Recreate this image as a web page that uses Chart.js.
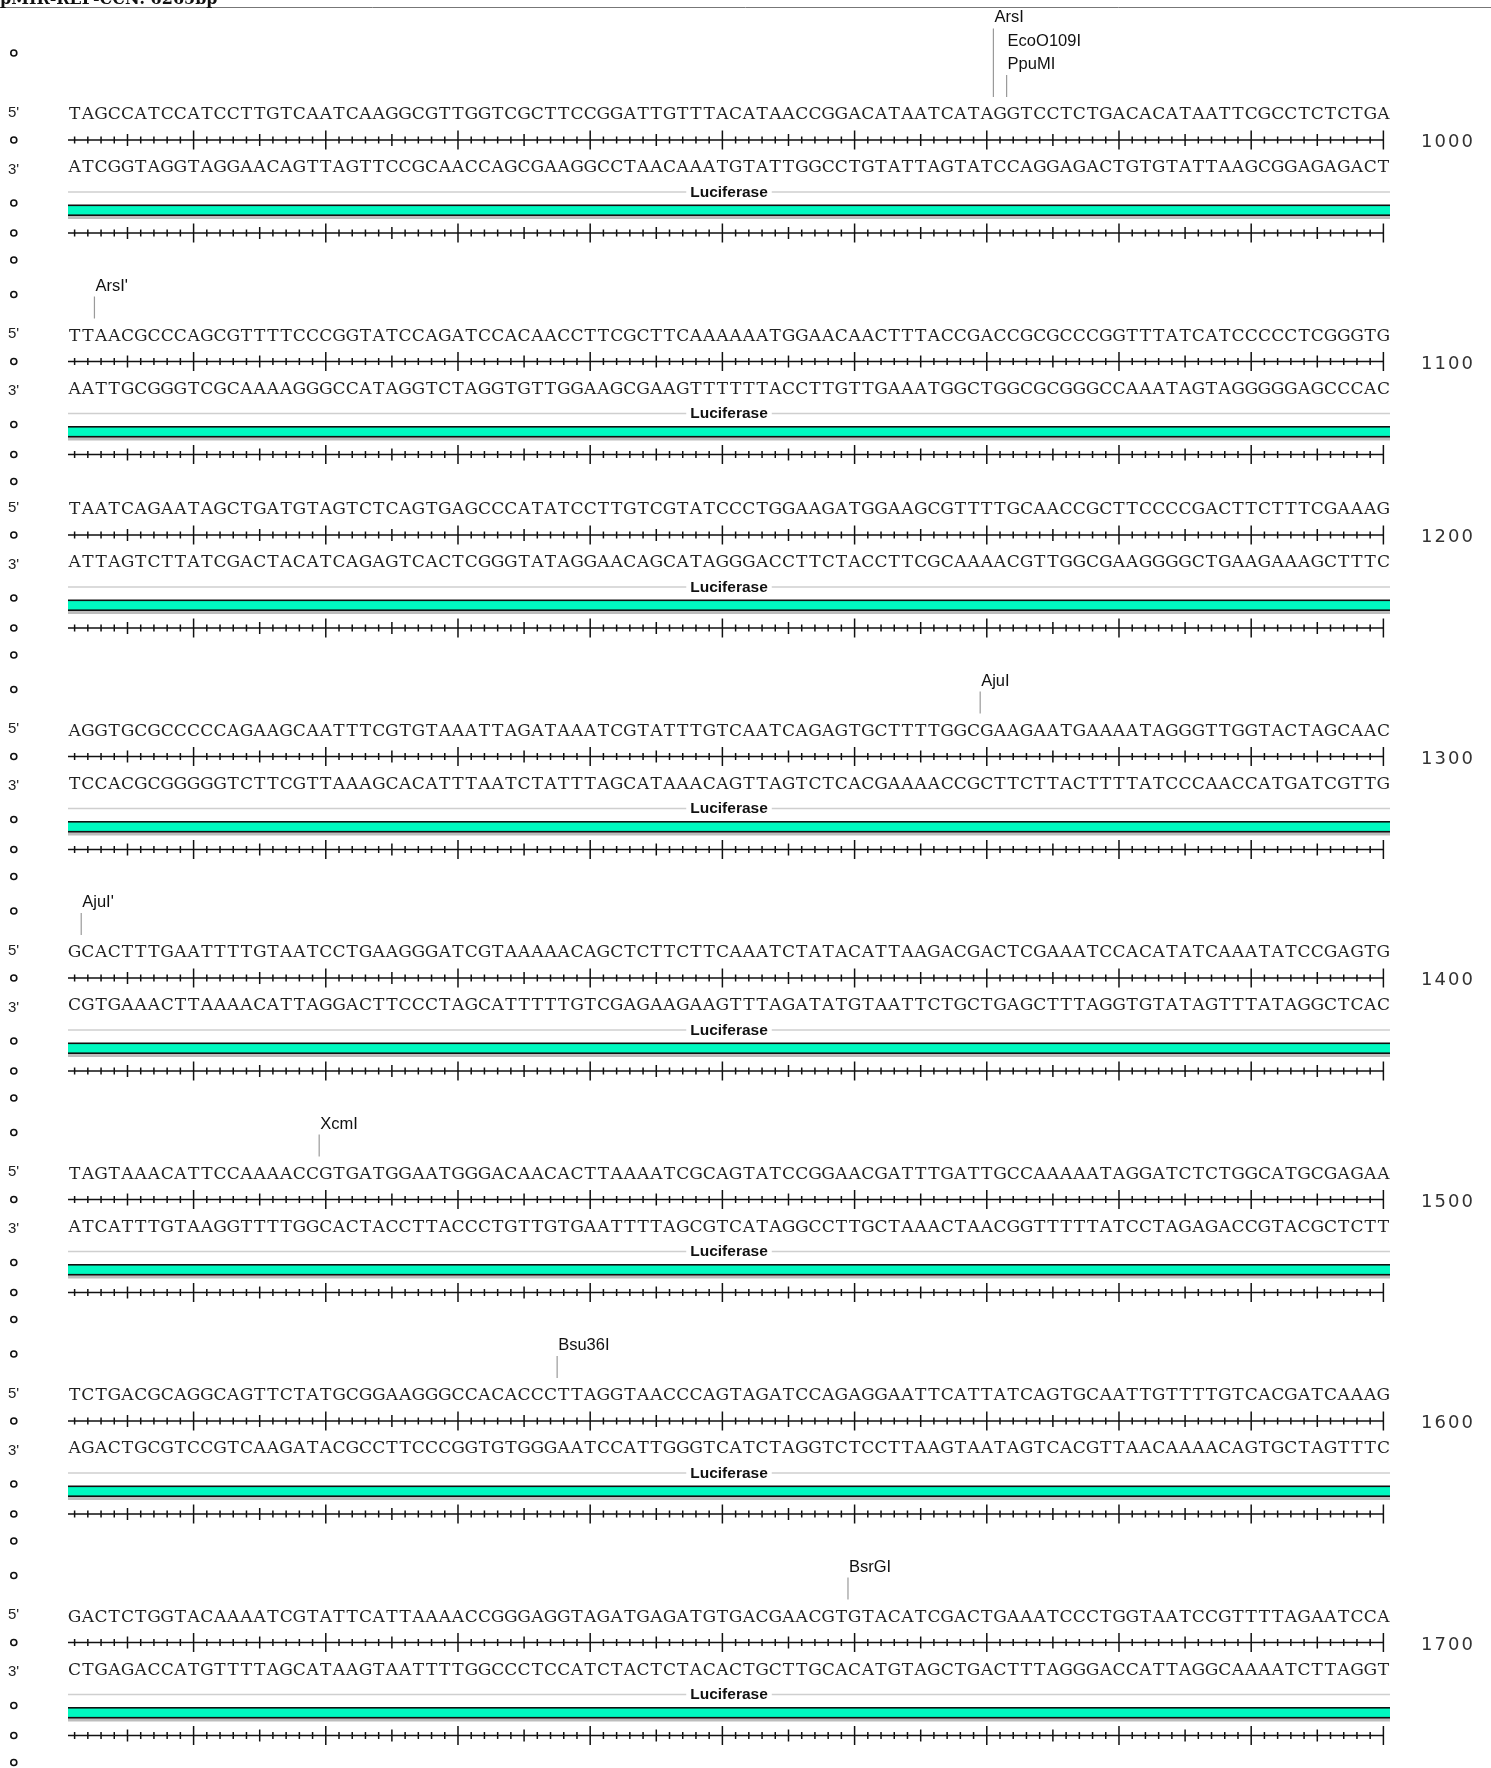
<!DOCTYPE html>
<html>
<head>
<meta charset="utf-8">
<title>pMIR-REP sequence map</title>
<script src="https://cdn.jsdelivr.net/npm/chart.js@4.4.1/dist/chart.umd.min.js"></script>
<style>
  html, body { margin: 0; padding: 0; background: #fff; }
  #wrap { width: 1491px; height: 1768px; }
</style>
</head>
<body>
<div id="wrap"><canvas id="seqChart" width="1491" height="1768"></canvas></div>
<script>
// top strand (5' -> 3'), 100 bases per line
const sequences = [
  "TAGCCATCCATCCTTGTCAATCAAGGCGTTGGTCGCTTCCGGATTGTTTACATAACCGGACATAATCATAGGTCCTCTGACACATAATTCGCCTCTCTGA",
  "TTAACGCCCAGCGTTTTCCCGGTATCCAGATCCACAACCTTCGCTTCAAAAAATGGAACAACTTTACCGACCGCGCCCGGTTTATCATCCCCCTCGGGTG",
  "TAATCAGAATAGCTGATGTAGTCTCAGTGAGCCCATATCCTTGTCGTATCCCTGGAAGATGGAAGCGTTTTGCAACCGCTTCCCCGACTTCTTTCGAAAG",
  "AGGTGCGCCCCCAGAAGCAATTTCGTGTAAATTAGATAAATCGTATTTGTCAATCAGAGTGCTTTTGGCGAAGAATGAAAATAGGGTTGGTACTAGCAAC",
  "GCACTTTGAATTTTGTAATCCTGAAGGGATCGTAAAAACAGCTCTTCTTCAAATCTATACATTAAGACGACTCGAAATCCACATATCAAATATCCGAGTG",
  "TAGTAAACATTCCAAAACCGTGATGGAATGGGACAACACTTAAAATCGCAGTATCCGGAACGATTTGATTGCCAAAAATAGGATCTCTGGCATGCGAGAA",
  "TCTGACGCAGGCAGTTCTATGCGGAAGGGCCACACCCTTAGGTAACCCAGTAGATCCAGAGGAATTCATTATCAGTGCAATTGTTTTGTCACGATCAAAG",
  "GACTCTGGTACAAAATCGTATTCATTAAAACCGGGAGGTAGATGAGATGTGACGAACGTGTACATCGACTGAAATCCCTGGTAATCCGTTTTAGAATCCA"
];
const lineEnds = [1000, 1100, 1200, 1300, 1400, 1500, 1600, 1700];
const featureNames = ["Luciferase", "Luciferase", "Luciferase", "Luciferase",
                      "Luciferase", "Luciferase", "Luciferase", "Luciferase"];

// restriction sites: name, line index, cut after base n of that line
const siteNames = ["ArsI", "EcoO109I", "PpuMI", "ArsI'", "AjuI", "AjuI'", "XcmI", "Bsu36I", "BsrGI"];
const siteLines = [0, 0, 0, 1, 3, 4, 5, 6, 7];
const siteCuts  = [70, 71, 71, 2, 69, 1, 19, 37, 59];

const titleText = "pMIR-REP-CCN: 6265bp";

// layout
const BASES = 100;
const FIRST_RULER = 140;
const STEP_PLAIN = 173.5;
const STEP_SITES = 221.5;
const MARKER_X = -3.6;   // left column, in base units
const complement = { A: "T", T: "A", G: "C", C: "G" };

// y of the main ruler for each line
const rulerY = [];
sequences.forEach((s, i) => {
  if (i === 0) rulerY.push(FIRST_RULER);
  else rulerY.push(rulerY[i - 1] + (siteLines.includes(i) ? STEP_SITES : STEP_PLAIN));
});

// stacking level of each site label (last one on a line sits lowest)
const siteLevels = siteNames.map((n, k) =>
  siteLines.filter((l, j) => l === siteLines[k] && j > k).length);
const labelY = (k) => rulerY[siteLines[k]] - 77 - 23.3 * siteLevels[k];

// ruler ticks and baselines
const tickPoints = [];
const rulerLines = [];
rulerY.forEach((y0) => {
  [y0, y0 + 93].forEach((y) => {
    for (let b = 1; b <= BASES; b++) {
      tickPoints.push({ x: b, y: y, r: b % 10 === 0 ? 9.5 : (b % 5 === 0 ? 6 : 3.5) });
    }
    rulerLines.push({ x: 0.5, y: y }, { x: BASES, y: y }, { x: BASES, y: null });
  });
});

// left-hand "o" markers
const markerPoints = [];
rulerY.forEach((y, i) => {
  const levels = siteLines.filter((l) => l === i).length;
  if (levels > 0) markerPoints.push({ x: MARKER_X, y: y - 67 - 10 * (levels - 1) });
  [0, 63, 93, 120].forEach((d) => markerPoints.push({ x: MARKER_X, y: y + d }));
});

// site lines: one per distinct cut position, from the lowest label down to the strand
const siteLinePoints = [];
siteNames.forEach((n, k) => {
  const lowest = siteLines.every((l, j) => !(j > k && l === siteLines[k] && siteCuts[j] === siteCuts[k]));
  if (!lowest) return;
  const y = rulerY[siteLines[k]];
  siteLinePoints.push({ x: siteCuts[k] + 0.5, y: labelY(k) + 12 },
                      { x: siteCuts[k] + 0.5, y: y - 43 },
                      { x: siteCuts[k] + 0.5, y: null });
});

const seqPlugin = {
  id: "seqPlugin",
  beforeDatasetsDraw(chart) {
    const c = chart.ctx, xs = chart.scales.x, ys = chart.scales.y;
    const x0 = xs.getPixelForValue(0.5), x1 = xs.getPixelForValue(BASES + 0.5);
    c.save();
    // header rule
    c.strokeStyle = "#777"; c.lineWidth = 1;
    c.beginPath(); c.moveTo(0, ys.getPixelForValue(7.5)); c.lineTo(chart.width, ys.getPixelForValue(7.5)); c.stroke();
    rulerY.forEach((y, i) => {
      // feature track
      const gy = ys.getPixelForValue(y + 52);
      c.strokeStyle = "#cfcfcf"; c.lineWidth = 1.5;
      c.beginPath(); c.moveTo(x0, gy); c.lineTo(x1, gy); c.stroke();
      const top = ys.getPixelForValue(y + 64.5);
      c.fillStyle = "#bdbdbd"; c.fillRect(x0, top + 11, x1 - x0, 3.5);
      c.fillStyle = "#111"; c.fillRect(x0, top, x1 - x0, 11.5);
      c.fillStyle = "#00f9c0"; c.fillRect(x0, top + 1.6, x1 - x0, 8.3);
      // feature label
      c.font = "bold 15.5px 'Liberation Sans', Arial, sans-serif";
      c.textAlign = "center"; c.textBaseline = "alphabetic";
      const mid = (x0 + x1) / 2, tw = c.measureText(featureNames[i]).width;
      c.fillStyle = "#fff"; c.fillRect(mid - tw / 2 - 4, gy - 8, tw + 8, 16);
      c.fillStyle = "#111"; c.fillText(featureNames[i], mid, ys.getPixelForValue(y + 56.5));
    });
    c.restore();
  },
  afterDatasetsDraw(chart) {
    const c = chart.ctx, xs = chart.scales.x, ys = chart.scales.y;
    c.save();
    // title (runs off the top edge)
    c.fillStyle = "#111";
    c.font = "bold 16px 'DejaVu Serif', serif";
    c.textAlign = "left"; c.textBaseline = "alphabetic";
    c.fillText(titleText, 0, ys.getPixelForValue(4));

    rulerY.forEach((y, i) => {
      const seq = sequences[i];
      // strands
      c.font = "17px 'DejaVu Serif', serif";
      c.textAlign = "center";
      c.fillStyle = "#222";
      for (let b = 0; b < seq.length; b++) {
        const px = xs.getPixelForValue(b + 1);
        c.fillText(seq[b], px, ys.getPixelForValue(y - 21));
        c.fillText(complement[seq[b]], px, ys.getPixelForValue(y + 32));
      }
      // strand ends
      c.font = "15px 'Liberation Sans', Arial, sans-serif";
      c.textAlign = "left";
      c.fillText("5'", 8, ys.getPixelForValue(y - 23.5));
      c.fillText("3'", 8, ys.getPixelForValue(y + 33.5));
      // position number
      c.font = "18px 'DejaVu Sans', sans-serif";
      c.letterSpacing = "2px";
      c.fillStyle = "#333";
      c.fillText(String(lineEnds[i]), xs.getPixelForValue(BASES + 2.85), ys.getPixelForValue(y + 7));
      c.letterSpacing = "0px";
    });

    // site names
    c.font = "16.5px 'Liberation Sans', Arial, sans-serif";
    c.fillStyle = "#111";
    c.textAlign = "left";
    siteNames.forEach((n, k) => {
      c.fillText(n, xs.getPixelForValue(siteCuts[k] + 0.5) + 1, ys.getPixelForValue(labelY(k) + 6));
    });
    c.restore();
  }
};

new Chart(document.getElementById("seqChart").getContext("2d"), {
  type: "scatter",
  data: {
    datasets: [
      {
        label: "ruler",
        data: rulerLines,
        showLine: true,
        borderColor: "#111",
        borderWidth: 1.5,
        pointRadius: 0,
        spanGaps: false
      },
      {
        label: "ticks",
        data: tickPoints,
        pointStyle: "line",
        pointRotation: 90,
        pointRadius: (ctx) => (ctx.raw ? ctx.raw.r : 0),
        pointBorderColor: "#111",
        pointBorderWidth: 1.5
      },
      {
        label: "sites",
        data: siteLinePoints,
        showLine: true,
        borderColor: "#9a9a9a",
        borderWidth: 1.2,
        pointRadius: 0,
        spanGaps: false
      },
      {
        label: "markers",
        data: markerPoints,
        pointStyle: "circle",
        pointRadius: 3,
        pointBorderColor: "#111",
        pointBackgroundColor: "#fff",
        pointBorderWidth: 1.6
      }
    ]
  },
  options: {
    responsive: false,
    animation: false,
    events: [],
    devicePixelRatio: 1,
    layout: { padding: 0, autoPadding: false },
    plugins: {
      legend: { display: false },
      tooltip: { enabled: false }
    },
    scales: {
      x: { type: "linear", display: false, min: -4.6437, max: 108.14 },
      y: { type: "linear", display: false, min: 0, max: 1768, reverse: true }
    }
  },
  plugins: [seqPlugin]
});
</script>
</body>
</html>
